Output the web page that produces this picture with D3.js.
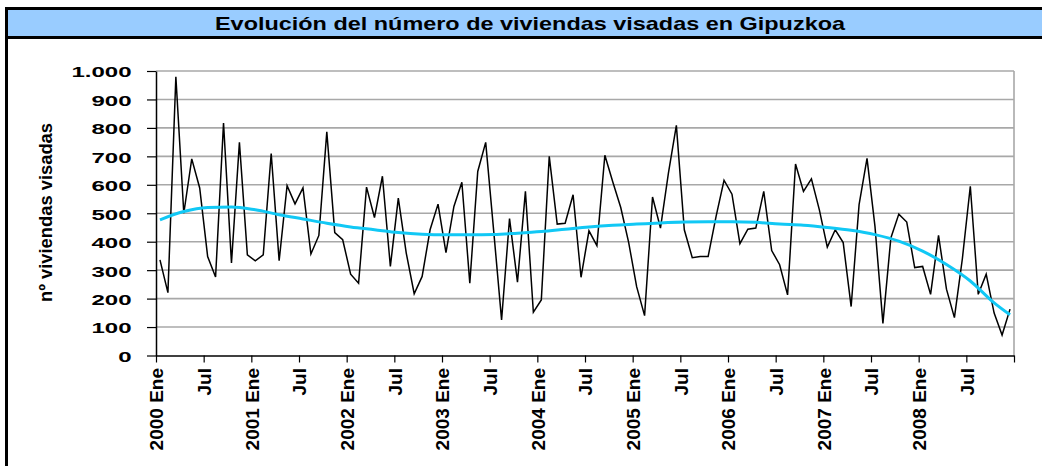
<!DOCTYPE html>
<html>
<head>
<meta charset="utf-8">
<script src="https://cdn.jsdelivr.net/npm/d3@7"></script>
<style>
  body { margin: 0; background: #fff; }
  svg { display: block; font-family: "Liberation Sans", Arial, sans-serif; }
</style>
</head>
<body>
<script>
// monthly values, 2000 Ene .. 2008 Dic
var years = [2000, 2001, 2002, 2003, 2004, 2005, 2006, 2007, 2008];
var viviendas = [
  336, 221, 980, 500, 691, 589, 348, 276, 817, 325, 749, 354,
  333, 354, 710, 333, 597, 533, 589, 357, 422, 786, 432, 407,
  286, 254, 592, 485, 630, 313, 553, 360, 217, 278, 442, 532,
  362, 524, 609, 254, 647, 749, 440, 125, 481, 258, 577, 152,
  195, 700, 462, 465, 565, 275, 438, 386, 704, 610, 520, 397,
  242, 140, 557, 448, 641, 809, 442, 344, 348, 348, 489, 616,
  567, 393, 444, 448, 577, 369, 319, 213, 673, 577, 621, 512,
  381, 442, 397, 172, 530, 693, 454, 113, 413, 497, 469, 309,
  313, 215, 422, 233, 133, 340, 595, 215, 286, 149, 72, 163
];
// trend line (month index, value)
var trendMonth = [0, 3, 6, 9, 12, 15, 18, 21, 24, 27, 30, 33, 36, 39, 42, 45, 48, 51,
  54, 57, 60, 63, 66, 69, 72, 75, 78, 81, 84, 87, 90, 93, 96, 99, 102, 105, 107];
var trendValue = [477, 506, 520, 522, 512, 495, 480, 465, 452, 442, 432, 426, 424, 424, 425, 430, 436, 444,
  452, 458, 462, 466, 469, 470, 470, 468, 462, 458, 450, 440, 425, 402, 367, 320, 262, 185, 143];
var yTicks = [0, 100, 200, 300, 400, 500, 600, 700, 800, 900, 1000];
var tickLabels = [];
years.forEach(function(y) { tickLabels.push(y + " Ene", "Jul"); });
tickLabels.push("");

var title = "Evolución del número de viviendas visadas en Gipuzkoa";
var yTitle = "nº viviendas visadas";

var W = 1042, H = 466;
var svg = d3.select("body").append("svg")
    .attr("width", W)
    .attr("height", H);

// frame + title band
svg.append("rect")
    .attr("x", 6.5).attr("y", 8.5)
    .attr("width", W + 10).attr("height", H + 10)
    .attr("fill", "#fff").attr("stroke", "#000").attr("stroke-width", 3);
svg.append("rect")
    .attr("x", 8).attr("y", 10)
    .attr("width", W).attr("height", 26)
    .attr("fill", "#99ccff");
svg.append("line")
    .attr("x1", 6).attr("x2", W)
    .attr("y1", 37.5).attr("y2", 37.5)
    .attr("stroke", "#000").attr("stroke-width", 3);
svg.append("text")
    .attr("x", 530).attr("y", 30)
    .attr("text-anchor", "middle")
    .attr("font-size", 19).attr("font-weight", "bold")
    .attr("textLength", 630).attr("lengthAdjust", "spacingAndGlyphs")
    .text(title);

// scales
var x = d3.scaleLinear().domain([0, viviendas.length]).range([156, 1014]);
var y = d3.scaleLinear().domain([0, 1000]).range([355.5, 71]);

var es = d3.formatLocale({decimal: ",", thousands: ".", grouping: [3], currency: ["", " €"]});
var fmt = es.format(",d");

// gridlines
svg.append("g")
    .selectAll("line")
    .data(yTicks.slice(1))
    .join("line")
    .attr("x1", x(0)).attr("x2", x(viviendas.length))
    .attr("y1", function(d) { return y(d); })
    .attr("y2", function(d) { return y(d); })
    .attr("stroke", "#a8a8a8").attr("stroke-width", 1.6);
// right border of the plot area
svg.append("line")
    .attr("x1", x(viviendas.length)).attr("x2", x(viviendas.length))
    .attr("y1", y(1000)).attr("y2", y(0))
    .attr("stroke", "#a8a8a8").attr("stroke-width", 1.6);

// Y axis
var gy = svg.append("g")
    .attr("transform", "translate(" + x(0) + ",0)")
    .call(d3.axisLeft(y).tickValues(yTicks).tickFormat(fmt).tickSize(9).tickSizeOuter(0));
gy.select(".domain").attr("stroke-width", 1.5);
gy.selectAll(".tick line").attr("stroke-width", 1.2);
gy.selectAll(".tick text")
    .attr("font-family", "'Liberation Sans', Arial, sans-serif")
    .attr("font-size", 15.5).attr("font-weight", "bold").attr("fill", "#000")
    .attr("transform", "scale(1.55,1)")
    .attr("x", -24.5 / 1.55)
    .attr("dy", "0.38em");

// X axis
var xTicks = d3.range(0, viviendas.length + 1, 6);
var gx = svg.append("g")
    .attr("transform", "translate(0," + y(0) + ")")
    .call(d3.axisBottom(x).tickValues(xTicks)
        .tickFormat(function(d, i) { return tickLabels[i]; })
        .tickSize(7).tickSizeOuter(0));
gx.select(".domain").attr("stroke-width", 1.5);
gx.selectAll(".tick line").attr("stroke-width", 1.2);
gx.selectAll(".tick text")
    .attr("font-family", "'Liberation Sans', Arial, sans-serif")
    .attr("font-size", 19).attr("font-weight", "bold").attr("fill", "#000")
    .attr("text-anchor", "end")
    .attr("transform", "rotate(-90)")
    .attr("x", -12.5).attr("y", 0).attr("dy", "0.36em");

// Y axis title
svg.append("text")
    .attr("transform", "translate(51.5,212.5) rotate(-90)")
    .attr("text-anchor", "middle")
    .attr("font-size", 19).attr("font-weight", "bold")
    .attr("textLength", 179).attr("lengthAdjust", "spacingAndGlyphs")
    .text(yTitle);

// data line
var line = d3.line()
    .x(function(d, i) { return x(i + 0.5); })
    .y(function(d) { return y(d); });
svg.append("path")
    .datum(viviendas)
    .attr("fill", "none")
    .attr("stroke", "#000")
    .attr("stroke-width", 1.5)
    .attr("stroke-linejoin", "miter")
    .attr("d", line);

// trend line
var trend = trendMonth.map(function(m, i) { return {m: m, v: trendValue[i]}; });
svg.append("path")
    .datum(trend)
    .attr("fill", "none")
    .attr("stroke", "#11c8f5")
    .attr("stroke-width", 3)
    .attr("d", d3.line()
        .curve(d3.curveMonotoneX)
        .x(function(d) { return x(d.m + 0.5); })
        .y(function(d) { return y(d.v); }));
</script>
</body>
</html>
